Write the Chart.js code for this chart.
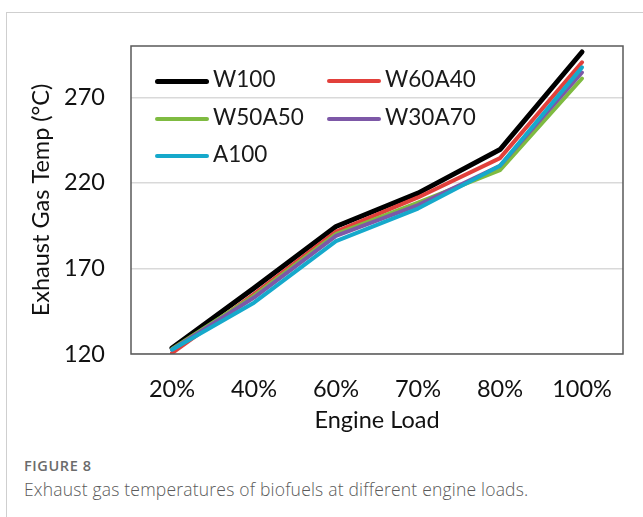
<!DOCTYPE html>
<html>
<head>
<meta charset="utf-8">
<script src="https://cdn.jsdelivr.net/npm/chart.js@4"></script>
<style>
  html, body { margin: 0; padding: 0; background: #fff; }
  #page { position: relative; width: 643px; height: 517px; overflow: hidden; }
  #frame { position: absolute; left: 6px; top: 12px; right: -2px; bottom: -2px;
           border-left: 1px solid #cfcfcf; border-top: 1px solid #cfcfcf; }
  #wrap { position: absolute; left: 0; top: 0; width: 643px; height: 440px; }
  #legend { position: absolute; left: 155px; top: 61px; width: 340px;
            font-family: Lato, "Liberation Sans", sans-serif; font-size: 22.5px; color: #1a1a1a; }
  .item { position: absolute; height: 36px; line-height: 36px; white-space: nowrap; }
  .swatch { display: inline-block; width: 54px; vertical-align: middle; border-radius: 3px; margin-right: 4px; }
  #fig { position: absolute; left: 24px; top: 456px; font-family: "Open Sans", sans-serif;
         font-size: 14.5px; font-weight: 600; letter-spacing: 0.6px; color: #6b6b6b; }
  #cap { position: absolute; left: 24px; top: 477px; font-family: "Open Sans", sans-serif;
         font-size: 17.5px; font-weight: 300; letter-spacing: 0.2px; color: #5a5a5a; }
</style>
</head>
<body>
<div id="page">
  <div id="frame"></div>
  <div id="wrap"><canvas id="myChart" width="643" height="440"></canvas></div>
  <div id="legend"></div>
  <div id="fig">FIGURE 8</div>
  <div id="cap">Exhaust gas temperatures of biofuels at different engine loads.</div>
</div>
<script>
const loads = ["20%", "40%", "60%", "70%", "80%", "100%"];
const yTicks = [120, 170, 220, 270];

const labels = ["W100", "W60A40", "W50A50", "W30A70", "A100"];
const colors = ["#000000", "#e2403b", "#7fbb41", "#7d58a7", "#16a9cb"];
const widths = [5, 4, 4, 4, 4];

const w100 = [123.5, 158.5, 194.5, 214, 239.5, 296.5];
const w60a40 = [120.5, 155, 191.5, 211.5, 234.5, 290.5];
const w50a50 = [123, 154, 190, 208.5, 227.5, 281];
const w30a70 = [122.5, 153, 189, 207, 230, 284.5];
const a100 = [122.5, 150, 186, 205, 230, 287.5];

const series = [w100, w60a40, w50a50, w30a70, a100];

// legend in two columns, like the Excel original
const legend = document.getElementById("legend");
labels.forEach((name, i) => {
  const el = document.createElement("div");
  el.className = "item";
  el.style.left = (i % 2) * 172 + "px";
  el.style.top = Math.floor(i / 2) * 37.5 + "px";
  el.innerHTML = '<span class="swatch" style="height:' + widths[i] + 'px;background:' + colors[i] + '"></span>' + name;
  legend.appendChild(el);
});

const frame = {
  id: "frame",
  afterDraw(chart) {
    const a = chart.chartArea;
    const c = chart.ctx;
    c.save();
    c.strokeStyle = "#595959";
    c.lineWidth = 1.5;
    c.strokeRect(a.left, a.top, a.right - a.left, a.bottom - a.top);
    c.restore();
  },
};

const font = { family: "Lato, 'Liberation Sans', sans-serif", size: 23.5 };

new Chart(document.getElementById("myChart"), {
  type: "line",
  data: {
    labels: loads,
    datasets: series.map((d, i) => ({
      label: labels[i],
      data: d,
      borderColor: colors[i],
      backgroundColor: colors[i],
      borderWidth: widths[i],
      borderJoinStyle: "round",
      borderCapStyle: "round",
      pointRadius: 0,
      tension: 0,
      order: labels.length - i,
    })),
  },
  options: {
    responsive: false,
    animation: false,
    layout: { padding: { left: 20, right: 20, top: 46, bottom: 0 } },
    plugins: { legend: { display: false }, tooltip: { enabled: false } },
    scales: {
      x: {
        offset: true,
        grid: { display: false, drawTicks: false },
        border: { display: false },
        ticks: { font: font, color: "#111", padding: 21 },
        title: { display: true, text: "Engine Load", font: font, color: "#111", padding: { top: 0, bottom: 5 } },
        afterFit(axis) { axis.height = 86; },
      },
      y: {
        min: 120,
        max: 300,
        grid: { color: "#d9d9d9", lineWidth: 1.5, drawTicks: false },
        border: { display: false },
        afterBuildTicks(axis) { axis.ticks = yTicks.map(v => ({ value: v })); },
        ticks: { font: font, color: "#111", padding: 26 },
        title: { display: true, text: "Exhaust Gas Temp (°C)", font: font, color: "#111", padding: { top: 7, bottom: 0 } },
        afterFit(axis) { axis.width = 111; },
      },
    },
  },
  plugins: [frame],
});
</script>
</body>
</html>
